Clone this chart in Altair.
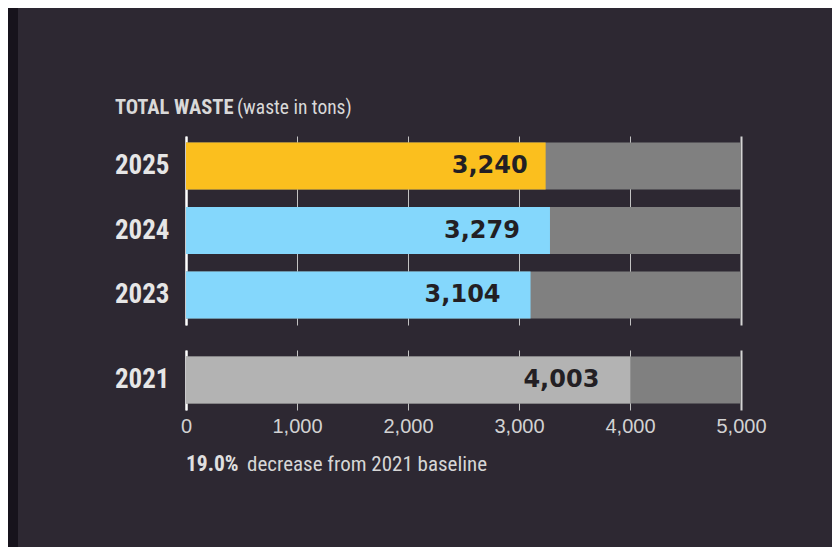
import altair as alt
import pandas as pd

# ---- data ----
YEARS_RECENT = ["2025", "2024", "2023"]
VALUES_RECENT = [3240, 3279, 3104]
COLORS_RECENT = ["#fbbf1e", "#84d7fc", "#84d7fc"]

YEARS_BASE = ["2021"]
VALUES_BASE = [4003]
COLORS_BASE = ["#b3b3b3"]

SCALE_MAX = 5000
TICKS = [0, 1000, 2000, 3000, 4000, 5000]

TITLE_BOLD = ["TOTAL WASTE"]
TITLE_REG = ["(waste in tons)"]
NOTE_BOLD = ["19.0%"]
NOTE_REG = ["decrease from 2021 baseline"]

# ---- styling ----
PANEL = "#2d2832"
OUTER = "#17131c"
REMAINDER = "#808080"
TEXT_DARK = "#231f24"
COND = "Roboto Condensed"

df_recent = pd.DataFrame({"year": YEARS_RECENT, "value": VALUES_RECENT,
                          "color": COLORS_RECENT, "cap": [SCALE_MAX] * len(YEARS_RECENT)})
df_base = pd.DataFrame({"year": YEARS_BASE, "value": VALUES_BASE,
                        "color": COLORS_BASE, "cap": [SCALE_MAX] * len(YEARS_BASE)})

grid_color = {"condition": {"test": "datum.value === 5000", "value": "#d4d4d4"}, "value": "#c2c2c2"}
grid_width = {"condition": {"test": "datum.value === 5000", "value": 2}, "value": 1}


def x_enc(field, show_labels):
    return alt.X(
        f"{field}:Q",
        scale=alt.Scale(domain=[0, SCALE_MAX], nice=False, zero=True),
        axis=alt.Axis(
            title=None, values=TICKS, format=",.0f", grid=True, gridColor=grid_color,
            gridWidth=grid_width, ticks=False, domain=False, labels=show_labels,
            labelFont="Liberation Sans", labelFontSize=20, labelColor="#d2d2d2",
            labelPadding=6, labelFlush=False,
        ),
    )


def y_enc(order):
    return alt.Y(
        "year:N", sort=order,
        scale=alt.Scale(paddingInner=0.27, paddingOuter=0.1),
        axis=alt.Axis(
            title=None, ticks=False, domain=True, domainColor="#ffffff", domainWidth=2.5,
            labelFont=COND, labelFontSize=27, labelFontWeight="bold",
            labelColor="#e6e6e6", labelPadding=17, grid=False,
        ),
    )


def bar_group(df, order, show_labels):
    base = alt.Chart(df)
    bg = base.mark_bar(color=REMAINDER).encode(x=x_enc("cap", show_labels), y=y_enc(order))
    fg = base.mark_bar().encode(
        x=x_enc("value", show_labels), y=y_enc(order),
        color=alt.Color("color:N", scale=None),
    )
    return bg, fg


def value_text(df, order, show_labels, dx):
    return alt.Chart(df).mark_text(
        align="right", baseline="middle", dx=dx, font="DejaVu Sans",
        fontSize=24, fontWeight="bold", color=TEXT_DARK,
    ).encode(
        x=x_enc("value", show_labels), y=y_enc(order),
        text=alt.Text("value:Q", format=","),
    )


def annotation(texts, x, y, weight, size, color):
    return alt.Chart(pd.DataFrame({"t": texts})).mark_text(
        align="left", baseline="middle", font=COND, fontSize=size,
        fontWeight=weight, color=color,
    ).encode(x=alt.value(x), y=alt.value(y), text="t:N")


# dark strip at the left edge of the page
strip = alt.Chart(pd.DataFrame({"t": [""]})).mark_rect(color=OUTER).encode(
    x=alt.value(-178), x2=alt.value(-168), y=alt.value(-128), y2=alt.value(411)
)

# top group
bg_t, fg_t = bar_group(df_recent, YEARS_RECENT, False)
txt_first = value_text(df_recent[df_recent["year"] == YEARS_RECENT[0]], YEARS_RECENT, False, -18)
txt_rest = value_text(df_recent[df_recent["year"] != YEARS_RECENT[0]], YEARS_RECENT, False, -30)
title_b = annotation(TITLE_BOLD, -71, -28, "bold", 20.5, "#d9d9d9")
title_r = annotation(TITLE_REG, 51, -28, "normal", 19.5, "#d9d9d9")
top = alt.layer(strip, bg_t, fg_t, txt_first, txt_rest, title_b, title_r).properties(width=555, height=189)

# bottom group
bg_b, fg_b = bar_group(df_base, YEARS_BASE, True)
txt_b = value_text(df_base, YEARS_BASE, True, -31)
note_b = annotation(NOTE_BOLD, 0, 115, "bold", 21.5, "#e0e0e0")
note_r = annotation(NOTE_REG, 61, 115, "normal", 21, "#d6d6d6")
bottom = alt.layer(bg_b, fg_b, txt_b, note_b, note_r).properties(width=555, height=60)

chart = alt.vconcat(top, bottom, spacing=25, bounds="flush").resolve_scale(y="independent").properties(
    background=PANEL,
    padding={"left": 0, "top": 0, "right": 65, "bottom": 0},
).configure_view(stroke=None)

chart.save("out.html", embed_options={"renderer": "svg", "actions": False})
